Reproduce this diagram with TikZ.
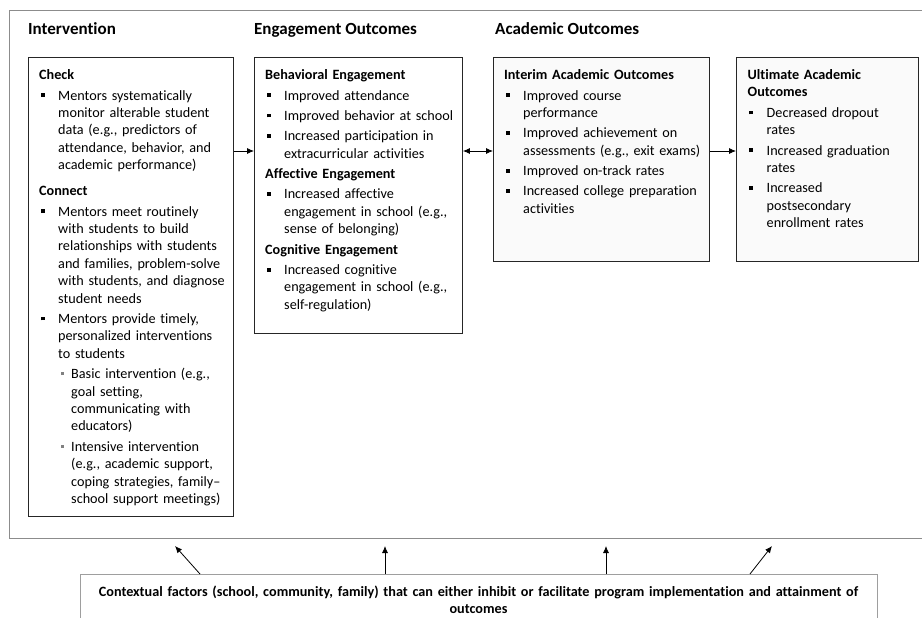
\documentclass[tikz,border=0pt]{standalone}
\usepackage{fontspec}
\setmainfont{Carlito}[Ligatures=NoCommon]
\usetikzlibrary{arrows.meta}
\newcommand{\bxfirst}[1]{\noindent\textbf{#1}\par}
\newcommand{\bxhd}[1]{\par\noindent\textbf{#1}\par}
\newcommand{\bxit}[1]{\par\hangindent=19pt\hangafter=1\noindent\makebox[19pt][l]{\hspace{1.6pt}\raisebox{3pt}{\rule{3.8pt}{3.8pt}}}#1\par}
\newcommand{\bxsub}[1]{\par\hangindent=32pt\hangafter=1\noindent\makebox[32pt][l]{\hspace{21.6pt}\textcolor{black!50}{\raisebox{3.5pt}{\rule{3.2pt}{3.2pt}}}}#1\par}
\newcommand{\bxsetup}{\setlength{\parskip}{3pt}\raggedright}
\begin{document}
\begin{tikzpicture}[x=1pt,y=-1pt,
  frame/.style={draw=black!45, line width=0.9pt, anchor=north west, inner sep=0pt},
  box/.style={draw=black!85, line width=0.9pt, anchor=north west, inner sep=0pt},
  boxtxt/.style={anchor=base west, inner sep=0pt, text width=#1, font=\fontsize{14.2}{17.4}\selectfont},
  colhead/.style={anchor=base west, inner sep=0pt, font=\fontsize{17}{20}\selectfont\bfseries},
  arr/.style={-{Latex[length=7pt,width=6pt]}, line width=0.8pt},
  darr/.style={{Latex[length=7pt,width=6pt]}-{Latex[length=7pt,width=6pt]}, line width=0.8pt}]
\useasboundingbox (0,0) rectangle (922,618);
\clip (0,0) rectangle (922,618);
\fill[white] (0,0) rectangle (922,618);

% outer frame
\node[frame, minimum width=930pt, minimum height=528pt] (outer) at (9,10) {};

% column headings
\node[colhead] (h1) at (28,35) {Intervention};
\node[colhead] (h2) at (254,35) {Engagement Outcomes};
\node[colhead] (h3) at (495,35) {Academic Outcomes};

% boxes
\node[box, minimum width=205pt, minimum height=459pt] (b1) at (28,57) {};
\node[box, minimum width=208pt, minimum height=276pt] (b2) at (254,57) {};
\node[box, fill=black!2, minimum width=216pt, minimum height=204pt] (b3) at (493,57) {};
\node[box, fill=black!2, minimum width=182pt, minimum height=204pt] (b4) at (736,57) {};

\node[boxtxt=192pt] (t1) at ([xshift=11pt,yshift=-22.6pt]b1.north west) {\bxsetup\bxfirst{Check}
\bxit{Mentors systematically\newline monitor alterable student\newline data (e.g., predictors of\newline attendance, behavior, and\newline academic performance)}
\vspace{5.7pt}
\bxhd{Connect}
\bxit{Mentors meet routinely\newline with students to build\newline relationships with students\newline and families, problem-solve\newline with students, and diagnose\newline student needs}
\bxit{Mentors provide timely,\newline personalized interventions\newline to students}
\bxsub{Basic intervention (e.g.,\newline goal setting,\newline communicating with\newline educators)}
\bxsub{Intensive intervention\newline (e.g., academic support,\newline coping strategies, family–\newline school support meetings)}
};

\node[boxtxt=195pt] (t2) at ([xshift=11pt,yshift=-22.6pt]b2.north west) {\bxsetup\bxfirst{Behavioral Engagement}
\bxit{Improved attendance}
\bxit{Improved behavior at school}
\bxit{Increased participation in\newline extracurricular activities}
\bxhd{Affective Engagement}
\bxit{Increased affective\newline engagement in school (e.g.,\newline sense of belonging)}
\bxhd{Cognitive Engagement}
\bxit{Increased cognitive\newline engagement in school (e.g.,\newline self-regulation)}
};

\node[boxtxt=203pt] (t3) at ([xshift=11pt,yshift=-22.6pt]b3.north west) {\bxsetup\bxfirst{Interim Academic Outcomes}
\bxit{Improved course\newline performance}
\bxit{Improved achievement on\newline assessments (e.g., exit exams)}
\bxit{Improved on-track rates}
\bxit{Increased college preparation\newline activities}
};

\node[boxtxt=169pt] (t4) at ([xshift=11.5pt,yshift=-22.6pt]b4.north west) {\bxsetup\bxfirst{Ultimate Academic\newline Outcomes}
\bxit{Decreased dropout\newline rates}
\bxit{Increased graduation\newline rates}
\bxit{Increased\newline postsecondary\newline enrollment rates}
};

% arrows between boxes
\draw[arr] ([yshift=-94pt]b1.north east) -- ([yshift=-94pt]b2.north west);
\draw[darr] ([yshift=-94pt]b2.north east) -- ([yshift=-94pt]b3.north west);
\draw[arr] ([yshift=-94pt]b3.north east) -- ([yshift=-94pt]b4.north west);

% contextual factors box
\node[frame, draw=black!38, minimum width=797pt, minimum height=80pt] (ctx) at (80,574) {};
\node[anchor=base, inner sep=0pt, align=center, text width=780pt,
      font=\fontsize{14.2}{17.4}\selectfont\bfseries] (ctxt) at (478.5,596)
  {Contextual factors (school, community, family) that can either inhibit or facilitate program implementation and attainment of\\outcomes};

\coordinate (p1) at (175,546);
\coordinate (p2) at (385,546);
\coordinate (p3) at (606,546);
\coordinate (p4) at (772,546);
\draw[arr] ([xshift=120pt]ctx.north west) -- (p1);
\draw[arr] ([xshift=305pt]ctx.north west) -- (p2);
\draw[arr] ([xshift=526pt]ctx.north west) -- (p3);
\draw[arr] ([xshift=670pt]ctx.north west) -- (p4);
\end{tikzpicture}
\end{document}
